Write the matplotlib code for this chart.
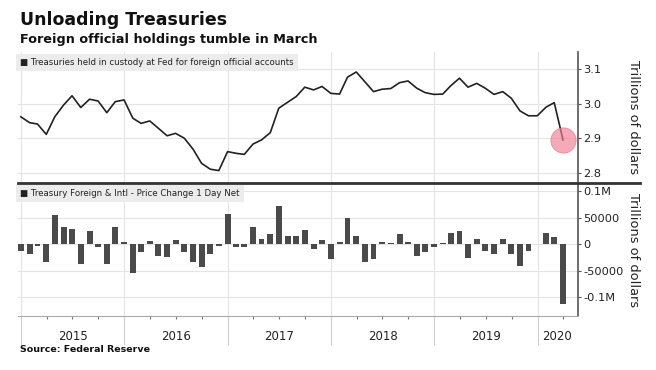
import numpy as np
import pandas as pd
import matplotlib
matplotlib.use("Agg")
import matplotlib.pyplot as plt
import matplotlib.dates as mdates
import matplotlib.transforms as mtransforms
from matplotlib.lines import Line2D

plt.rcParams['font.family'] = ['DejaVu Sans']

# Month-end dates, Dec 2014 .. Mar 2020
dates = pd.date_range('2014-12-31', periods=64, freq='ME')

# Treasuries held in custody (trillions of dollars)
holdings = [
    2.962, 2.945, 2.941, 2.911, 2.962, 2.996, 3.023, 2.989, 3.013, 3.008,
    2.974, 3.006, 3.011, 2.958, 2.943, 2.950, 2.929, 2.907, 2.914, 2.900,
    2.868, 2.827, 2.810, 2.806, 2.861, 2.856, 2.853, 2.883, 2.895, 2.916,
    2.987, 3.004, 3.021, 3.048, 3.040, 3.050, 3.030, 3.028, 3.077, 3.092,
    3.064, 3.035, 3.042, 3.044, 3.061, 3.066, 3.045, 3.032, 3.027, 3.028,
    3.052, 3.074, 3.048, 3.059, 3.045, 3.027, 3.035, 3.016, 2.979, 2.965,
    2.965, 2.990, 3.003, 2.895,
]

# Monthly net change
changes = [
    -12600, -18200, -3000, -32700, 55300, 32000, 28300, -37100, 25800, -4400,
    -37700, 33300, 4400, -54700, -15100, 5700, -21400, -23300, 8200, -14500,
    -32700, -43400, -18200, -3800, 57900, -4400, -4400, 33300, 10000, 18900,
    73000, 15700, 16400, 27000, -8800, 8800, -27700, 4400, 49000, 16400,
    -32700, -27700, 5000, 3100, 19500, 3800, -22000, -14500, -5700, 1900,
    20800, 25200, -26400, 9400, -12000, -18900, 9400, -18900, -40900, -12600,
    1000, 22000, 14500, -112600,
]

top_ticks = [2.8, 2.9, 3.0, 3.1]
bot_ticks = [-100000, -50000, 0, 50000, 100000]
bot_labels = ['-0.1M', '-50000', '0', '50000', '0.1M']
years = [2015, 2016, 2017, 2018, 2019, 2020]

W, H = 656, 370
fig = plt.figure(figsize=(W / 100, H / 100), dpi=100)
fig.patch.set_facecolor('white')

def px_box(x0, y0, x1, y1):
    return [x0 / W, 1 - y1 / H, (x1 - x0) / W, (y1 - y0) / H]

ax1 = fig.add_axes(px_box(18, 52, 578, 183))
ax2 = fig.add_axes(px_box(18, 183, 578, 316))

xmin = mdates.date2num(pd.Timestamp('2014-12-21'))
xmax = mdates.date2num(pd.Timestamp('2020-05-23'))
year_starts = [mdates.date2num(pd.Timestamp(f'{y}-01-01')) for y in years]
xd = mdates.date2num(dates)

grid_c = '#e4e4e4'
spine_c = '#555555'

# ---- top panel ----
ax1.plot(xd, holdings, color='#222222', lw=1.2, zorder=3)
ax1.scatter([xd[-1]], [holdings[-1]], s=330, color='#f27d93', alpha=0.65,
            edgecolors='#e8667f', linewidths=0.6, zorder=4)
ax1.set_xlim(xmin, xmax)
ax1.set_ylim(2.77, 3.15)
ax1.set_yticks(top_ticks)
ax1.set_yticklabels([f'{v:.1f}' for v in top_ticks])
ax1.set_xticks(year_starts)
ax1.tick_params(axis='x', length=0, labelbottom=False)
ax1.grid(True, color=grid_c, lw=0.8)
ax1.set_axisbelow(True)

# ---- bottom panel ----
ax2.bar(xd, changes, width=21, color='#4a4a4a', zorder=3)
ax2.set_xlim(xmin, xmax)
ax2.set_ylim(-135300, 115700)
ax2.set_yticks(bot_ticks)
ax2.set_yticklabels(bot_labels)
ax2.set_xticks(year_starts)
ax2.set_xticklabels([])
quarters = [mdates.date2num(d) for d in pd.date_range('2015-01-01', '2020-04-01', freq='QS')]
ax2.set_xticks(quarters, minor=True)
ax2.tick_params(axis='x', which='major', length=21, width=0.8, color='#cfcfcf')
ax2.tick_params(axis='x', which='minor', length=2.5, width=0.8, color='#777777')
ax2.grid(True, color=grid_c, lw=0.8)
ax2.set_axisbelow(True)

for ax in (ax1, ax2):
    ax.yaxis.tick_right()
    ax.tick_params(axis='y', length=2.5, width=0.8, color=spine_c, pad=1.5,
                   labelsize=8.2, labelcolor='#222222')
    ax.spines['left'].set_visible(False)
    ax.spines['top'].set_visible(False)
    ax.spines['right'].set_color(spine_c)
    ax.spines['right'].set_linewidth(1.2)
ax1.spines['bottom'].set_visible(False)
ax2.spines['bottom'].set_color('#aaaaaa')
ax2.spines['bottom'].set_linewidth(0.8)

# year labels between boundaries
trans = mtransforms.blended_transform_factory(ax2.transData, ax2.transAxes)
label_x = [mdates.date2num(pd.Timestamp(f'{y}-07-02')) for y in years[:-1]]
label_x.append(mdates.date2num(pd.Timestamp('2020-03-08')))
for y, lx in zip(years, label_x):
    ax2.text(lx, -0.155, str(y), transform=trans, ha='center', va='center',
             fontsize=8.5, color='#222222')

# legends
ax1.text(0.004, 0.955, '\u25a0 Treasuries held in custody at Fed for foreign official accounts',
         transform=ax1.transAxes, ha='left', va='top', fontsize=6.2, color='#222222',
         bbox=dict(boxstyle='square,pad=0.45', fc='#ececec', ec='none'), zorder=5)
ax2.text(0.004, 0.955, '\u25a0 Treasury Foreign & Intl - Price Change 1 Day Net',
         transform=ax2.transAxes, ha='left', va='top', fontsize=6.2, color='#222222',
         bbox=dict(boxstyle='square,pad=0.45', fc='#ececec', ec='none'), zorder=5)

# right axis titles
fig.text(633 / W, 1 - 117 / H, 'Trillions of dollars', rotation=270,
         ha='center', va='center', fontsize=9.4, color='#222222')
fig.text(633 / W, 1 - 250 / H, 'Trillions of dollars', rotation=270,
         ha='center', va='center', fontsize=9.4, color='#222222')

# separator
fig.add_artist(Line2D([18 / W, 640 / W], [1 - 183 / H, 1 - 183 / H],
                      color='#333333', lw=2.0))

# titles and source
fig.text(20 / W, 1 - 20 / H, 'Unloading Treasuries', ha='left', va='center',
         fontsize=12.5, fontweight='bold', color='#111111')
fig.text(20 / W, 1 - 40 / H, 'Foreign official holdings tumble in March', ha='left',
         va='center', fontsize=9.2, fontweight='bold', color='#111111')
fig.text(20 / W, 1 - 350 / H, 'Source: Federal Reserve', ha='left', va='center',
         fontsize=6.8, fontweight='bold', color='#111111')

fig.savefig('out.png', dpi=100)
